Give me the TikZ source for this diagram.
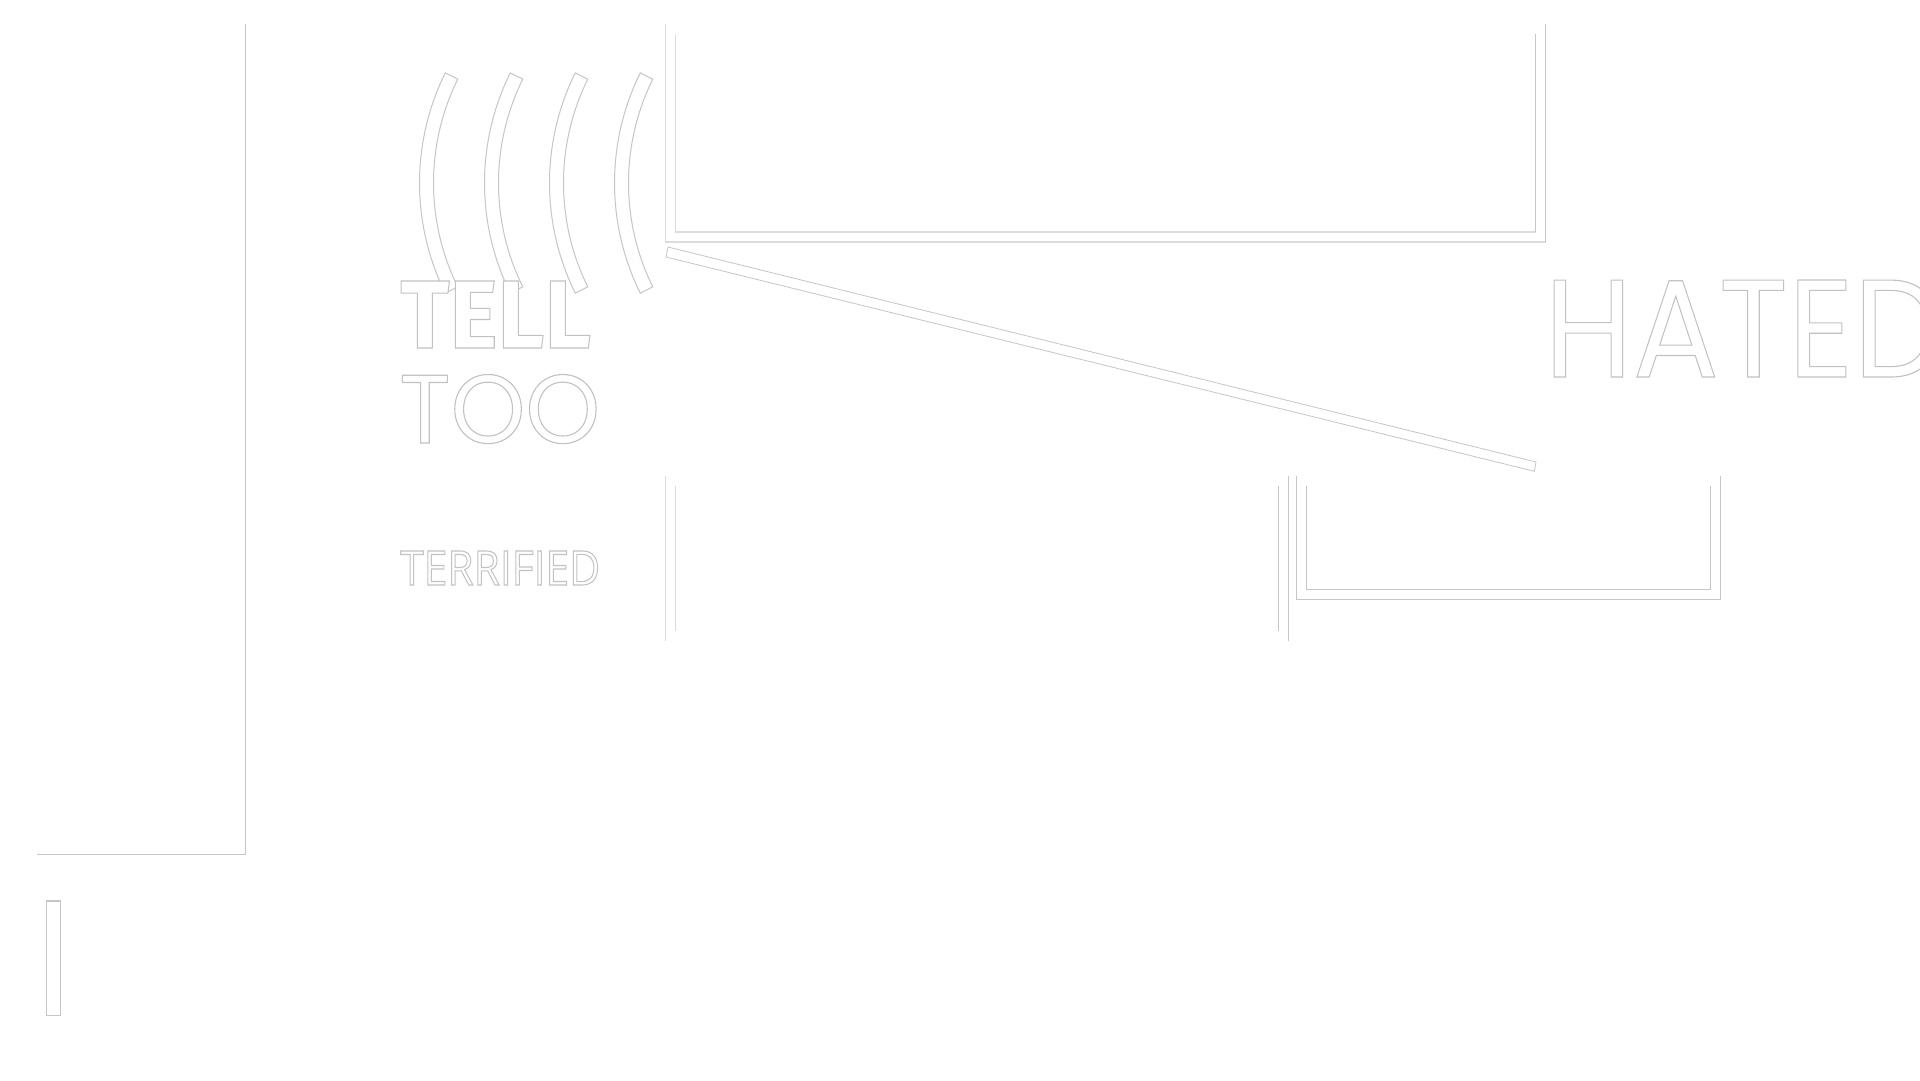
\documentclass[tikz,border=0pt]{standalone}
\usepackage{fontspec}
\usepackage{graphicx}
\usetikzlibrary{calc}
\newfontfamily\fira{Fira Sans}
\newfontfamily\popp{Poppins}
\newfontfamily\opens{Open Sans}
\definecolor{ln}{RGB}{198,198,198}
\definecolor{lnl}{RGB}{220,220,220}
\newcommand\outl[1]{\special{pdf:literal direct 2 Tr 1.1 w 0.76 G}#1\special{pdf:literal direct 0 Tr}}
\newcommand\wavearc[1]{%
  \draw[arcsty] ($(#1,183)+(206.3:248.5)$) arc[start angle=206.3,end angle=153.7,radius=248.5]
    -- ($(#1,183)+(153.7:234.5)$) arc[start angle=153.7,end angle=206.3,radius=234.5] -- cycle;}
\tikzset{
  thinline/.style={draw=ln,line width=1.1pt},
  lightline/.style={draw=lnl,line width=1.1pt},
  arcsty/.style={draw=ln,fill=white,line width=1pt},
  word/.style={inner sep=0pt,anchor=base west,text=white},
}
\begin{document}
\begin{tikzpicture}[x=1pt,y=-1pt]
\useasboundingbox (0,0) rectangle (1920,1080);
\fill[white] (0,0) rectangle (1920,1080);
% left frame
\draw[thinline] (245.5,24) -- (245.5,854.3) -- (36.7,854.3);
\draw[thinline] (46.3,901) rectangle (60.3,1015.3);
% top U
\draw[lightline] (665.3,24) -- (665.3,242) -- (1545.7,242);
\draw[thinline] (1545.7,242) -- (1545.7,24);
\draw[lightline] (675.3,34) -- (675.3,232) -- (1535.7,232);
\draw[thinline] (1535.7,232) -- (1535.7,34);
% bar
\draw[draw=ln,line width=0.8pt] (668,247) -- (1536,462) -- (1534.3,471.3) -- (666,257) -- cycle;
% bottom left verticals
\draw[lightline] (665.3,476) -- (665.3,640.7);
\draw[lightline] (675.3,486) -- (675.3,630.7);
% bottom right verticals and U
\draw[thinline] (1278.3,486) -- (1278.3,630.7);
\draw[thinline] (1288.3,476) -- (1288.3,640.7);
\draw[thinline] (1296.3,476) -- (1296.3,599.3) -- (1720.3,599.3) -- (1720.3,476);
\draw[thinline] (1306.3,486) -- (1306.3,589.3) -- (1710.3,589.3) -- (1710.3,486);
% arcs behind text
\wavearc{668}
\wavearc{733}
% texts
\node[word] (tell) at (400,348) {\resizebox{191pt}{67pt}{\fira\bfseries\fontsize{97}{97}\selectfont\outl{TELL}}};
\node[word] (too) at (399,443) {\resizebox{201pt}{68.5pt}{\popp\fontsize{96}{96}\selectfont\outl{TOO}}};
\node[word] (terrified) at (400,585) {\resizebox{200pt}{34pt}{\opens\fontsize{48}{48}\selectfont\outl{TERRIFIED}}};
\node[word] (hated) at (1544,377) {\resizebox{!}{97pt}{\scalebox{0.92}[1]{\popp\fontsize{137}{137}\selectfont\outl{HATED}}}};
% arcs in front
\wavearc{798}
\wavearc{863}
\end{tikzpicture}
\end{document}
